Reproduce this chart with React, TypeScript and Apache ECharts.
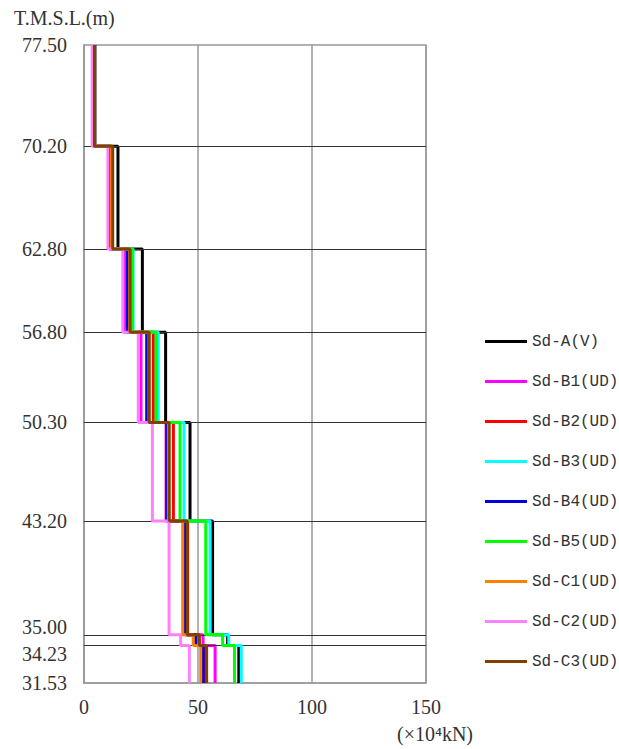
import React, { useEffect, useRef } from "react";
import * as echarts from "echarts";

const boundaries = [77.5, 70.2, 62.8, 56.8, 50.3, 43.2, 35.0, 34.23, 31.53];
const yTickLabels = ["77.50", "70.20", "62.80", "56.80", "50.30", "43.20", "35.00", "34.23", "31.53"];
const xTicks = [0, 50, 100, 150];

const seriesNames = [
  "Sd-A(V)", "Sd-B1(UD)", "Sd-B2(UD)", "Sd-B3(UD)", "Sd-B4(UD)",
  "Sd-B5(UD)", "Sd-C1(UD)", "Sd-C2(UD)", "Sd-C3(UD)",
];
const seriesColors = [
  "#000000", "#ff00ff", "#ff0000", "#00ffff", "#0000e0",
  "#00ff00", "#ff8000", "#ff80ff", "#804000",
];
// layer values (x10^4 kN), one per layer from top to bottom
const sdA = [4.8, 14.9, 25.6, 35.8, 46.5, 56.4, 63.0, 67.9];
const sdB1 = [4.0, 11.0, 17.7, 25.0, 36.0, 44.5, 52.2, 57.5];
const sdB2 = [4.3, 12.0, 20.5, 30.4, 39.2, 45.5, 50.5, 53.2];
const sdB3 = [4.5, 12.2, 21.5, 32.6, 43.9, 55.3, 63.5, 69.0];
const sdB4 = [4.2, 11.5, 19.0, 27.5, 36.3, 44.5, 49.0, 52.3];
const sdB5 = [4.5, 12.2, 21.3, 31.6, 42.1, 53.4, 60.8, 66.0];
const sdC1 = [4.4, 12.0, 20.0, 28.5, 37.0, 43.3, 47.9, 51.2];
const sdC2 = [3.6, 10.5, 17.0, 23.8, 30.0, 37.3, 42.4, 46.2];
const sdC3 = [4.6, 12.6, 20.2, 28.6, 37.4, 45.3, 50.6, 53.8];
const seriesValues = [sdA, sdB1, sdB2, sdB3, sdB4, sdB5, sdC1, sdC2, sdC3];

function stepPoints(vals: number[]) {
  const pts: number[][] = [];
  vals.forEach((v, i) => {
    pts.push([v, boundaries[i]]);
    pts.push([v, boundaries[i + 1]]);
  });
  return pts;
}

export default function App() {
  const ref = useRef<HTMLDivElement>(null);
  useEffect(() => {
    document.body.style.margin = "0";
    if (!ref.current) return;
    const chart = echarts.init(ref.current, null, { renderer: "svg" });
    const labelFont = "'Liberation Serif', serif";
    const series: any[] = seriesNames.map((name, i) => ({
      name,
      type: "line",
      data: stepPoints(seriesValues[i]),
      symbol: "none",
      lineStyle: { color: seriesColors[i], width: 3 },
      itemStyle: { color: seriesColors[i] },
      z: 3 + i,
    }));
    series.unshift({
      name: "levels",
      type: "line",
      data: [[0, boundaries[0]]],
      symbol: "none",
      lineStyle: { width: 0 },
      z: 2,
      silent: true,
      markLine: {
        silent: true,
        symbol: "none",
        label: { show: false },
        lineStyle: { color: "#333", width: 1.2, type: "solid" },
        data: boundaries.slice(1, boundaries.length - 1).map((b) => ({ yAxis: b })),
      },
    });
    chart.setOption({
      animation: false,
      grid: {
        left: 84,
        right: 193,
        top: 45,
        bottom: 66,
        show: true,
        borderColor: "#999",
        borderWidth: 1.5,
        containLabel: false,
      },
      xAxis: {
        type: "value",
        min: 0,
        max: 150,
        interval: 50,
        axisLine: { show: true, lineStyle: { color: "#999", width: 1.5 } },
        axisTick: { show: false },
        splitLine: { show: true, lineStyle: { color: "#999", width: 1.5 } },
        axisLabel: {
          color: "#333",
          fontFamily: labelFont,
          fontSize: 20,
          margin: 14,
          customValues: xTicks,
        },
      },
      yAxis: {
        type: "value",
        min: boundaries[boundaries.length - 1],
        max: boundaries[0],
        axisLine: { show: true, lineStyle: { color: "#999", width: 1.5 } },
        axisTick: { show: false },
        splitLine: { show: false },
        axisLabel: {
          color: "#333",
          fontFamily: labelFont,
          fontSize: 20,
          margin: 17,
          customValues: boundaries,
          formatter: (v: number) => {
            const idx = boundaries.findIndex((b) => Math.abs(b - v) < 1e-6);
            if (idx < 0) return "";
            if (idx === 6) return "{up|" + yTickLabels[idx] + "}";
            if (idx === 7) return "{dn|" + yTickLabels[idx] + "}";
            return yTickLabels[idx];
          },
          rich: {
            up: { fontFamily: labelFont, fontSize: 20, color: "#333", padding: [0, 0, 16, 0] },
            dn: { fontFamily: labelFont, fontSize: 20, color: "#333", padding: [16, 0, 0, 0] },
          },
        },
      },
      legend: {
        data: seriesNames,
        orient: "vertical",
        left: 480,
        top: 328,
        icon: "rect",
        itemWidth: 42,
        itemHeight: 3,
        itemGap: 23,
        textStyle: {
          fontFamily: "'Liberation Mono', monospace",
          fontSize: 16,
          lineHeight: 17,
          color: "#333",
        },
      },
      graphic: [
        {
          type: "text",
          left: 14,
          top: 8,
          style: {
            text: "T.M.S.L.(m)",
            font: "20px 'Liberation Serif', serif",
            fill: "#333",
          },
        },
        {
          type: "text",
          left: 397,
          top: 724,
          style: {
            text: "(×10⁴kN)",
            font: "20px 'Liberation Serif', serif",
            fill: "#333",
          },
        },
      ],
      series,
    });
    return () => chart.dispose();
  }, []);
  return <div ref={ref} style={{ width: 619, height: 749 }} />;
}
